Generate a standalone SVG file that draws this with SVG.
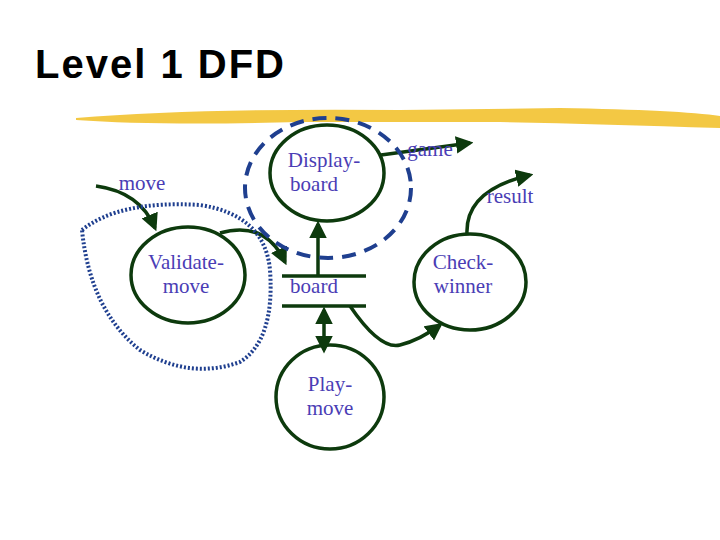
<svg xmlns="http://www.w3.org/2000/svg" width="720" height="540" viewBox="0 0 720 540">
<style>
.n{fill:none;stroke:#0d3a0d;stroke-width:3.5}
.t{font-family:"Liberation Serif",serif;font-size:21px;fill:#4a3db5;text-anchor:middle}
.c{fill:none;stroke:#0d3a0d;stroke-width:3.5}
</style>
<defs><marker id="a" viewBox="0 0 10 10" refX="8" refY="5" markerWidth="5" markerHeight="5" orient="auto-start-reverse"><path d="M0,0L10,5L0,10z" fill="#0d3a0d"/></marker></defs>
<rect width="720" height="540" fill="#fff"/>
<text x="35" y="78" font-family="Liberation Sans,sans-serif" font-weight="bold" font-size="40" letter-spacing="2" fill="#000">Level 1 DFD</text>
<path d="M76,118 Q200,108 400,110 L560,108 Q680,110 720,116 L720,128 Q600,124 500,122 L300,122 Q160,126 76,120z" fill="#f2c230" opacity="0.9"/>
<g id="displayboard"><ellipse class="n" cx="327" cy="173" rx="57" ry="48"/><text class="t" x="324" y="167">Display-</text><text class="t" x="314" y="191">board</text></g>
<g id="validatemove"><ellipse class="n" cx="188" cy="275" rx="57" ry="48"/><text class="t" x="186" y="269">Validate-</text><text class="t" x="186" y="293">move</text></g>
<g id="checkwinner"><ellipse class="n" cx="470" cy="282" rx="56" ry="48"/><text class="t" x="463" y="269">Check-</text><text class="t" x="463" y="293">winner</text></g>
<g id="playmove"><ellipse class="n" cx="330" cy="397" rx="54" ry="52"/><text class="t" x="330" y="391">Play-</text><text class="t" x="330" y="415">move</text></g>
<g id="board"><line class="n" x1="282" y1="276" x2="366" y2="276"/><line class="n" x1="282" y1="306" x2="366" y2="306"/><text class="t" x="314" y="293">board</text></g>
<g id="connectors">
<path class="c" d="M96,186 Q140,192 155,228" marker-end="url(#a)"/>
<path class="c" d="M220,233 Q265,220 285,262" marker-end="url(#a)"/>
<path class="c" d="M318,276 L318,224" marker-end="url(#a)"/>
<path class="c" d="M324,310 L324,350" marker-start="url(#a)" marker-end="url(#a)"/>
<path class="c" d="M350,306 Q380,350 400,345 Q420,340 440,325" marker-end="url(#a)"/>
<path class="c" d="M381,155 L470,143" marker-end="url(#a)"/>
<path class="c" d="M467,234 Q465,190 530,175" marker-end="url(#a)"/>
</g>
<ellipse cx="328" cy="188" rx="83" ry="70" fill="none" stroke="#1f3f8f" stroke-width="4" stroke-dasharray="14,9"/>
<path d="M82,230 Q120,200 200,205 Q265,215 270,270 Q275,340 240,362 Q190,380 140,350 Q90,310 82,230z" fill="none" stroke="#1f3f8f" stroke-width="4" stroke-dasharray="2,2"/>
<text class="t" x="142" y="190">move</text>
<text class="t" x="430" y="156">game</text>
<text class="t" x="510" y="203">result</text>
</svg>
